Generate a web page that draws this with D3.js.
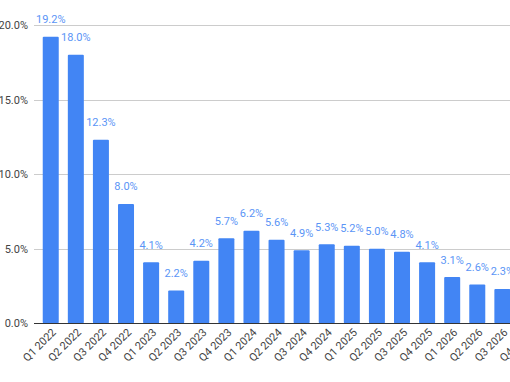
<!DOCTYPE html>
<html>
<head>
<meta charset="utf-8">
<script src="https://cdn.jsdelivr.net/npm/d3@7"></script>
<style>
body { margin: 0; background: #fff; overflow: hidden; }
svg { display: block; font-family: Roboto, Arial, sans-serif; }
</style>
</head>
<body>
<div id="figure"></div>
<script>
var quarters = ["Q1 2022","Q2 2022","Q3 2022","Q4 2022","Q1 2023","Q2 2023","Q3 2023","Q4 2023",
  "Q1 2024","Q2 2024","Q3 2024","Q4 2024","Q1 2025","Q2 2025","Q3 2025","Q4 2025",
  "Q1 2026","Q2 2026","Q3 2026","Q4 2026"];
var rates = [19.2,18.0,12.3,8.0,4.1,2.2,4.2,5.7,6.2,5.6,4.9,5.3,5.2,5.0,4.8,4.1,3.1,2.6,2.3,2.1];
var yTicks = [0,5,10,15,20];

var w = 510, h = 382;
var svg = d3.select("#figure").append("svg").attr("width", w).attr("height", h);

var x = d3.scaleBand().domain(quarters).range([38.2, 38.2 + 20*25.09])
  .paddingInner(0.362).paddingOuter(0.181);
var y = d3.scaleLinear().domain([0,20]).range([323.3, 24.9]);

// gridlines
svg.append("g").selectAll("line")
  .data(yTicks.filter(function(d){return d>0;}))
  .enter().append("line")
  .attr("x1", 34).attr("x2", w)
  .attr("y1", function(d){return Math.round(y(d))+0.5;})
  .attr("y2", function(d){return Math.round(y(d))+0.5;})
  .attr("stroke", "#cccccc").attr("stroke-width", 1);

// y labels
svg.append("g").selectAll("text")
  .data(yTicks).enter().append("text")
  .attr("x", 28).attr("y", function(d){return y(d)+4;})
  .attr("text-anchor","end").attr("font-size","11px").attr("fill","#444")
  .text(function(d){return d.toFixed(1)+"%";});

// bars
svg.append("g").selectAll("rect")
  .data(rates).enter().append("rect")
  .attr("x", function(d,i){return x(quarters[i]);})
  .attr("y", function(d){return y(d);})
  .attr("width", x.bandwidth())
  .attr("height", function(d){return y(0)-y(d);})
  .attr("rx", 1)
  .attr("fill", "#4285f4");

// baseline
svg.append("line")
  .attr("x1", 34).attr("x2", w)
  .attr("y1", Math.round(y(0))+0.5).attr("y2", Math.round(y(0))+0.5)
  .attr("stroke","#333").attr("stroke-width",1);

// value labels
svg.append("g").selectAll("text")
  .data(rates).enter().append("text")
  .attr("x", function(d,i){return x(quarters[i]) + x.bandwidth()/2;})
  .attr("y", function(d){return y(d) - 13.5;})
  .attr("text-anchor","middle").attr("font-size","11px").attr("fill","#5b95f6")
  .text(function(d){return d.toFixed(1)+"%";});

// x labels
svg.append("g").selectAll("text")
  .data(quarters).enter().append("text")
  .attr("transform", function(d){
    return "translate(" + (x(d)+x.bandwidth()/2+6) + "," + 333 + ") rotate(-45)";
  })
  .attr("text-anchor","end").attr("font-size","11px").attr("fill","#444")
  .text(function(d){return d;});
</script>
</body>
</html>
